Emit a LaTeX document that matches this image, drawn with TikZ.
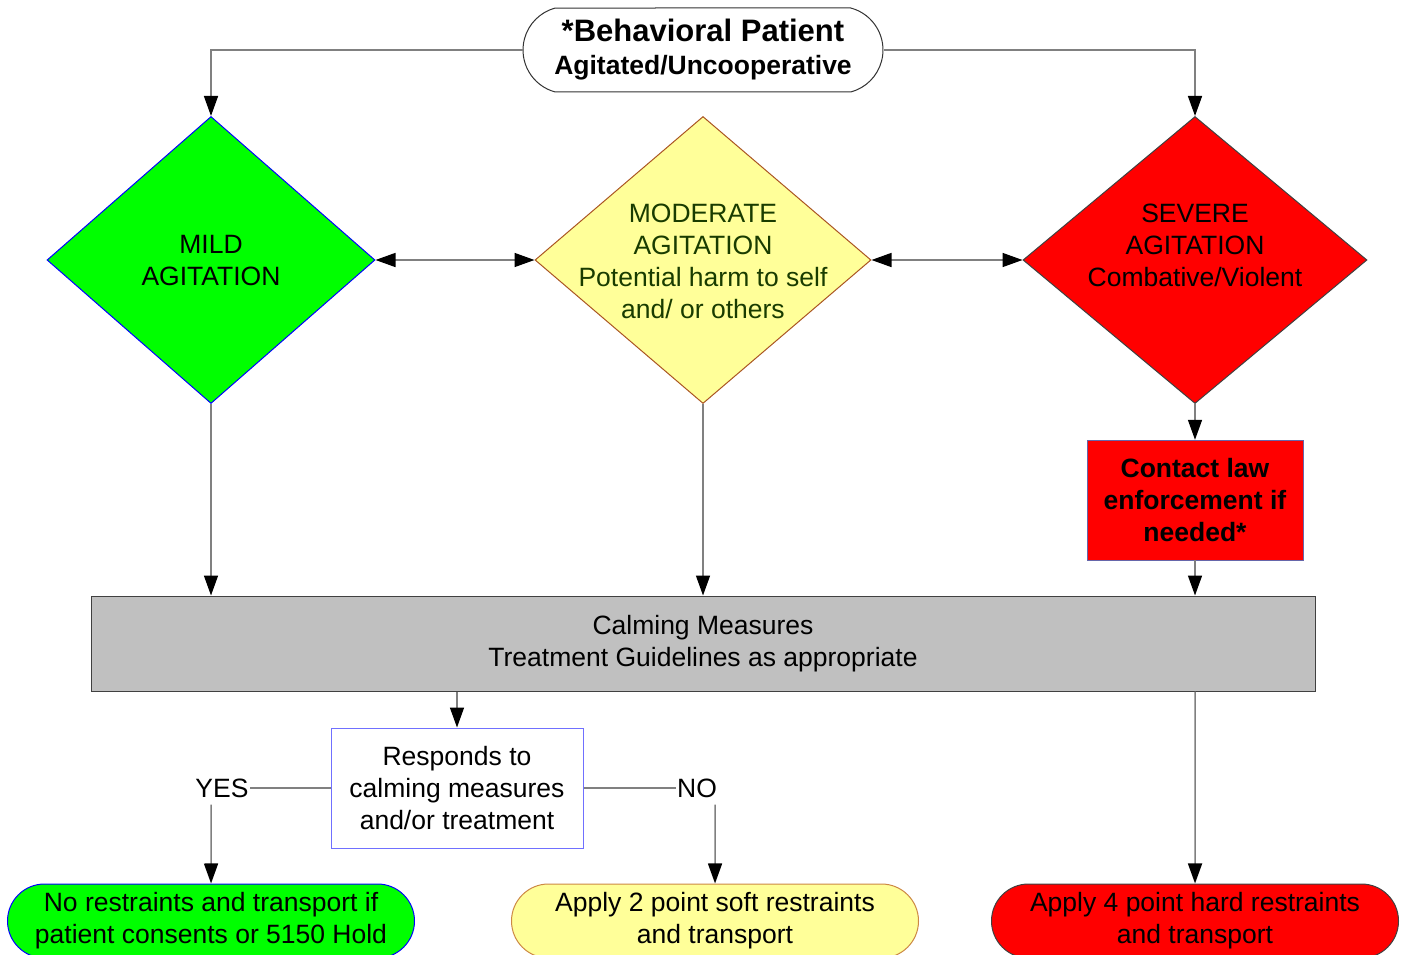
\documentclass[tikz,border=0pt]{standalone}
\usepackage{fontspec}
\setmainfont{Liberation Sans}
\usetikzlibrary{shapes.geometric,shapes.misc,arrows.meta}
\definecolor{calmgray}{RGB}{192,192,192}
\definecolor{linegray}{RGB}{128,128,128}
\definecolor{softyellow}{RGB}{255,255,153}
\definecolor{modgreen}{RGB}{25,60,0}
\definecolor{softedge}{RGB}{204,136,68}
\definecolor{modedge}{RGB}{170,85,34}
\definecolor{boxblue}{RGB}{112,112,255}
\definecolor{lawedge}{RGB}{102,102,170}
\begin{document}
\begin{tikzpicture}[x=1pt,y=-1pt,
  every node/.style={font=\fontsize{26.5}{32}\selectfont, align=center},
  arr/.style={draw=linegray, line width=1.5pt, -{Triangle[length=20pt,width=14pt,color=black]}},
  darr/.style={draw=linegray, line width=1.5pt, {Triangle[length=20pt,width=14pt,color=black]}-{Triangle[length=20pt,width=14pt,color=black]}},
  link/.style={draw=linegray, line width=1.5pt},
  level/.style={diamond, inner sep=0pt, line width=1pt},
  endbox/.style={rounded rectangle, minimum width=407pt, minimum height=74pt, inner sep=0pt, line width=1pt}]
\useasboundingbox (0,0) rectangle (1405,955);
\clip (0,0) rectangle (1405,955);
\node[draw=black!80, rounded rectangle, rounded rectangle arc length=150, minimum width=360pt, minimum height=84pt, inner sep=0pt, line width=1pt, font=\fontsize{26.5}{33}\selectfont\bfseries] (start) at (703,50) {{\fontsize{31}{33}\selectfont *Behavioral Patient}\\Agitated/Uncooperative};
\node[level, fill=green, draw=blue, minimum width=328pt, minimum height=287pt] (mild) at (211,260) {};
\node[level, fill=softyellow, draw=modedge, minimum width=336pt, minimum height=287pt] (moderate) at (703,260) {};
\node[level, fill=red, draw=darkgray, minimum width=344pt, minimum height=287pt] (severe) at (1195,260) {};
\node (mildtext) at (211,261) {MILD\\AGITATION};
\node[text=modgreen] (moderatetext) at (703,261) {MODERATE\\AGITATION\\Potential harm to self\\and/ or others};
\node (severetext) at (1195,245) {SEVERE\\AGITATION\\Combative/Violent};
\node[draw=lawedge, fill=red, minimum width=216pt, minimum height=120pt, inner sep=0pt, font=\fontsize{26.5}{32}\selectfont\bfseries] (law) at (1195,500) {Contact law\\enforcement if\\needed*};
\node[draw=darkgray, fill=calmgray, minimum width=1224pt, minimum height=95pt, line width=1pt] (calm) at (703,643.5) {Calming Measures\\Treatment Guidelines as appropriate};
\node[draw=boxblue, fill=white, minimum width=252pt, minimum height=120pt, line width=1pt] (responds) at (457,788) {Responds to\\calming measures\\and/or treatment};
\node[inner xsep=1pt, inner ysep=7pt] (yes) at (222,788) {YES};
\node[inner xsep=1pt, inner ysep=7pt] (no) at (697,788) {NO};
\node[endbox, fill=green, draw=blue] (nores) at (211,921) {No restraints and transport if\\patient consents or 5150 Hold};
\node[endbox, fill=softyellow, draw=softedge] (softr) at (715,921) {Apply 2 point soft restraints\\and transport};
\node[endbox, fill=red, draw=darkgray] (hardr) at (1195,921) {Apply 4 point hard restraints\\and transport};

\path[arr] (start) -| (mild);
\path[arr] (start) -| (severe);
\path[darr] (mild) -- (moderate);
\path[darr] (moderate) -- (severe);
\path[arr] (mild) -- (mild |- calm.north);
\path[arr] (moderate) -- (calm);
\path[arr] (severe) -- (law);
\path[arr] (law) -- (law |- calm.north);
\path[arr] (responds |- calm.south) -- (responds);
\path[link] (responds) -- (yes);
\path[link] (responds) -- (no);
\path[arr] (yes.south -| nores.north) -- (nores);
\path[arr] (no.south -| softr.north) -- (softr);
\path[arr] (hardr |- calm.south) -- (hardr);
\end{tikzpicture}
\end{document}
